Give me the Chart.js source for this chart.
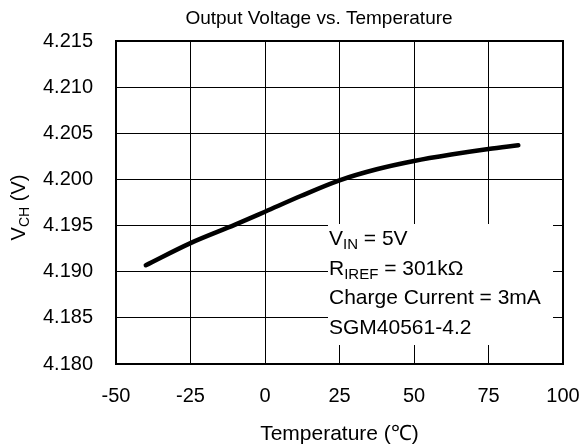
<!DOCTYPE html>
<html>
<head>
<meta charset="utf-8">
<script src="https://cdn.jsdelivr.net/npm/chart.js@4.4.1/dist/chart.umd.min.js"></script>
<style>
  html, body { margin: 0; padding: 0; background: #fff; }
  #wrap { width: 583px; height: 448px; position: relative; }
</style>
</head>
<body>
<div id="wrap"><canvas id="c" width="583" height="448"></canvas></div>
<script>
// ---- data ----
const temperatures = [-40, -25, -10, 0, 12, 25, 37.5, 50, 62.5, 75, 85];
const vchValues    = [4.1907, 4.1931, 4.1951, 4.1965, 4.1982, 4.1999, 4.2011, 4.2020, 4.2027, 4.2033, 4.2037];
const xTicks = [-50, -25, 0, 25, 50, 75, 100];
const yTicks = [4.180, 4.185, 4.190, 4.195, 4.200, 4.205, 4.210, 4.215];
const titleText = 'Output Voltage vs. Temperature';
const xTitle = 'Temperature (℃)';
const noteLines = [
  [['V', 0], ['IN', 1], [' = 5V', 0]],
  [['R', 0], ['IREF', 1], [' = 301kΩ', 0]],
  [['Charge Current = 3mA', 0]],
  [['SGM40561-4.2', 0]]
];

const FONT = '"Liberation Sans", Arial, sans-serif';

function drawRich(ctx, parts, x, y, size, subSize, subDrop) {
  let cx = x;
  for (const [t, sub] of parts) {
    ctx.font = (sub ? subSize : size) + 'px ' + FONT;
    ctx.fillText(t, cx, y + (sub ? subDrop : 0));
    cx += ctx.measureText(t).width;
  }
  return cx - x;
}
function richWidth(ctx, parts, size, subSize) {
  let w = 0;
  for (const [t, sub] of parts) {
    ctx.font = (sub ? subSize : size) + 'px ' + FONT;
    w += ctx.measureText(t).width;
  }
  return w;
}

const decorPlugin = {
  id: 'decor',
  beforeDatasetsDraw(chart) {
    const ctx = chart.ctx;
    // white note box covering grid
    const bx = 328, by = 224, bw = 225, bh = 121;
    ctx.save();
    ctx.fillStyle = '#fff';
    ctx.fillRect(bx, by, bw, bh);
    ctx.fillStyle = '#000';
    ctx.textBaseline = 'alphabetic';
    ctx.textAlign = 'left';
    const baselines = [245, 274.5, 304, 333.5];
    noteLines.forEach((parts, i) => drawRich(ctx, parts, 329, baselines[i], 21, 15, 4));
    ctx.restore();
  },
  afterDraw(chart) {
    const ctx = chart.ctx;
    const a = chart.chartArea;
    ctx.save();
    // frame
    ctx.strokeStyle = '#000';
    ctx.lineWidth = 2;
    ctx.strokeRect(a.left, a.top, a.right - a.left, a.bottom - a.top);
    // title
    ctx.fillStyle = '#000';
    ctx.font = '19px ' + FONT;
    ctx.textAlign = 'center';
    ctx.textBaseline = 'alphabetic';
    ctx.fillText(titleText, 319, 24);
    // x title
    ctx.font = '21px ' + FONT;
    ctx.fillText(xTitle, (a.left + a.right) / 2, 440);
    // y title (rotated, with subscript)
    const yParts = [['V', 0], ['CH', 1], [' (V)', 0]];
    ctx.translate(25, 207.5);
    ctx.rotate(-Math.PI / 2);
    ctx.textAlign = 'left';
    const w = richWidth(ctx, yParts, 20, 14);
    drawRich(ctx, yParts, -w / 2, 0, 20, 14, 4);
    ctx.restore();
  }
};

new Chart(document.getElementById('c'), {
  type: 'line',
  data: {
    datasets: [{
      data: temperatures.map((t, i) => ({ x: t, y: vchValues[i] })),
      borderColor: '#000',
      borderWidth: 4.5,
      borderCapStyle: 'round',
      borderJoinStyle: 'round',
      pointRadius: 0,
      cubicInterpolationMode: 'monotone',
      fill: false
    }]
  },
  options: {
    responsive: false,
    animation: false,
    devicePixelRatio: 1,
    layout: { padding: { top: 41, right: 20, left: 0, bottom: 0 } },
    plugins: { legend: { display: false }, tooltip: { enabled: false }, title: { display: false } },
    scales: {
      x: {
        type: 'linear',
        min: xTicks[0], max: xTicks[xTicks.length - 1],
        afterBuildTicks: s => { s.ticks = xTicks.map(v => ({ value: v })); },
        afterFit: s => { s.height = 84; s.paddingLeft = 0; s.paddingRight = 0; },
        grid: { color: '#000', lineWidth: 1, drawTicks: false },
        border: { display: false },
        ticks: { padding: 20, color: '#000', font: { family: FONT, size: 20 }, maxRotation: 0, callback: v => String(v) }
      },
      y: {
        type: 'linear',
        min: yTicks[0], max: yTicks[yTicks.length - 1],
        afterBuildTicks: s => { s.ticks = yTicks.map(v => ({ value: v })); },
        afterFit: s => { s.width = 116; s.paddingTop = 0; s.paddingBottom = 0; },
        grid: { color: '#000', lineWidth: 1, drawTicks: false },
        border: { display: false },
        ticks: { padding: 23, color: '#000', font: { family: FONT, size: 20 }, callback: v => Number(v).toFixed(3) }
      }
    }
  },
  plugins: [decorPlugin]
});
</script>
</body>
</html>
